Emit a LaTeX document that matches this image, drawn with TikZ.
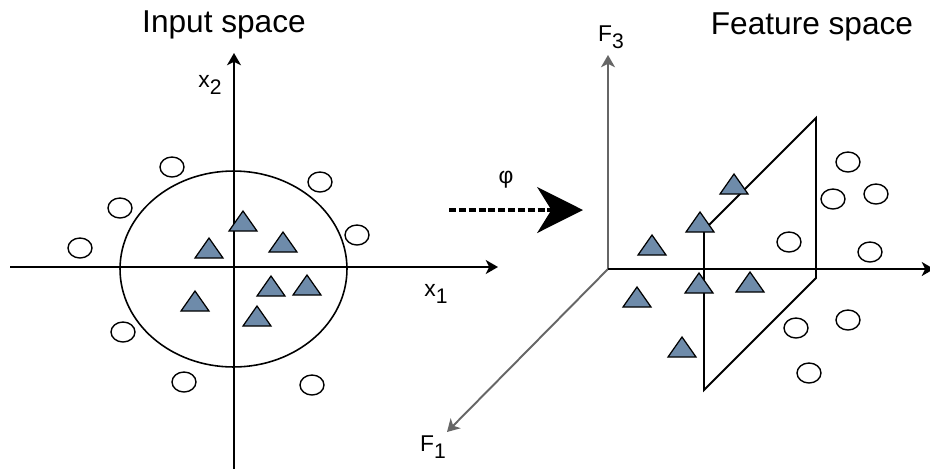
\documentclass[tikz,border=0pt]{standalone}
\usepackage{fontspec}
\setmainfont{Liberation Sans}
\usepackage{xcolor}
\usetikzlibrary{arrows.meta}

\definecolor{triblue}{RGB}{110,139,170}
\newcommand{\lsub}[1]{\raisebox{-4pt}{\fontsize{12}{14}\selectfont #1}}

\tikzset{
  axis/.style={line width=1.1pt, -{Stealth[length=7pt, width=8pt, inset=2pt]}},
  gaxis/.style={axis, draw=black!60},
  tri/.style={fill=triblue, draw=black, line width=0.7pt, line join=miter},
  ring/.style={draw=black, line width=0.8pt},
  lbl/.style={font=\fontsize{13}{15}\selectfont, inner sep=0pt},
  ttl/.style={font=\fontsize{18}{21}\selectfont, inner sep=0pt}
}

\begin{document}
\begin{tikzpicture}[x=0.02cm, y=-0.02cm]
  \useasboundingbox (0,0) rectangle (930,468);

  % Left figure
  \begin{scope}
    \coordinate (xl) at (10,267);
    \coordinate (xr) at (498,267);
    \coordinate (yb) at (234,470);
    \coordinate (yt) at (234,53);

    \draw[axis] (xl) -- (xr);
    \draw[axis] (yb) -- (yt);
    \draw[line width=0.9pt] (233.5,269) ellipse [x radius=2.27cm, y radius=1.96cm];

    \foreach \i/\x/\y in {1/172/167, 2/120/208, 3/80/248, 4/320/182,
                          5/357/235, 6/123/332, 7/184/382, 8/312/385} {
      \coordinate (cl\i) at (\x,\y);
      \draw[ring] (cl\i) ellipse [x radius=0.24cm, y radius=0.2cm];
    }

    \foreach \i/\x/\y in {1/243/221, 2/209/248, 3/283/242, 4/271/286,
                          5/307/285, 6/195/301, 7/257/316} {
      \coordinate (tl\i) at (\x,\y);
      \filldraw[tri] (\x-14,\y+10) -- (\x+14,\y+10) -- (\x,\y-10) -- cycle;
    }

    \node[ttl] (inp) at (224,25) {Input space};
    \node[lbl] (lx2) at (210,85) {x\lsub{2}};
    \node[lbl] (lx1) at (436,294) {x\lsub{1}};
  \end{scope}

  % Mapping arrow
  \coordinate (phs) at (449,210);
  \coordinate (phe) at (583,210);
  \draw[line width=2.8pt, dash pattern=on 4pt off 1.6pt,
        -{Stealth[length=26pt, width=26pt, inset=8pt]}] (phs) -- (phe);
  \node[lbl] (phi) at (506,180) {φ};

  % Right figure
  \begin{scope}
    \coordinate (O) at (608,269);
    \coordinate (F3) at (608,55);
    \coordinate (F1) at (447,432);
    \coordinate (F2) at (934,269);

    \draw[gaxis] (O) -- (F3);
    \draw[gaxis] (O) -- (F1);
    \draw[axis] (O) -- (F2);

    % separating plane
    \coordinate (pa) at (704,230);
    \coordinate (pb) at (816,118);
    \coordinate (pc) at (816,278);
    \coordinate (pd) at (704,390);
    \draw[line width=1.1pt, line join=miter] (pa) -- (pb) -- (pc) -- (pd) -- cycle;

    \foreach \i/\x/\y in {1/848/162, 2/833/199, 3/876/194, 4/789/242,
                          5/870/252, 6/796/328, 7/848/320, 8/809/373} {
      \coordinate (cr\i) at (\x,\y);
      \draw[ring] (cr\i) ellipse [x radius=0.24cm, y radius=0.2cm];
    }

    \foreach \i/\x/\y in {1/734/184, 2/700/222, 3/652/245, 4/699/283,
                          5/750/282, 6/637/297, 7/682/347} {
      \coordinate (tr\i) at (\x,\y);
      \filldraw[tri] (\x-14,\y+10) -- (\x+14,\y+10) -- (\x,\y-10) -- cycle;
    }

    \node[ttl] (feat) at (812,27) {Feature space};
    \node[lbl] (lf3) at (611,37) {F\lsub{3}};
    \node[lbl] (lf1) at (433,447) {F\lsub{1}};
  \end{scope}
\end{tikzpicture}
\end{document}
